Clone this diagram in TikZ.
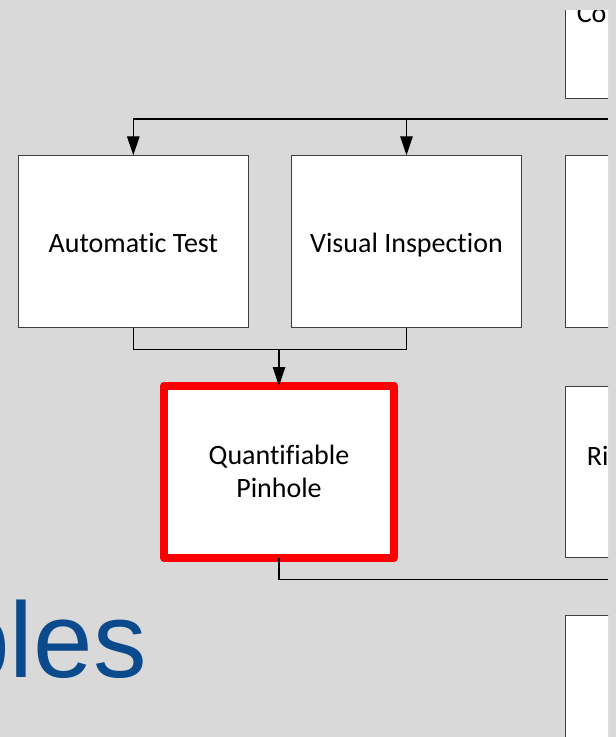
\documentclass[tikz,border=0pt]{standalone}
\usepackage{fontspec}
\setmainfont{Carlito}[RawFeature=-liga]
\newfontfamily\titlefont{Liberation Sans}
\usetikzlibrary{arrows.meta}
\definecolor{canvas}{RGB}{217,217,217}
\definecolor{boxline}{RGB}{64,64,64}
\definecolor{titleblue}{RGB}{11,74,140}
\definecolor{alert}{RGB}{255,0,0}
\begin{document}
\begin{tikzpicture}[x=1pt,y=-1pt,
  stepbox/.style={draw=boxline, line width=1pt, fill=white,
    minimum width=230pt, minimum height=172.5pt, inner sep=0pt, outer sep=0pt,
    align=center, font=\fontsize{28}{33}\selectfont},
  oneline/.style={text height=21pt, text depth=0pt},
  keybox/.style={stepbox, draw=alert, line width=8pt, line join=round,
    minimum height=171.5pt},
  link/.style={draw=black, line width=1.3pt},
  arrow/.style={link, -{Triangle[length=19pt,width=12.5pt]}},
  cuttext/.style={inner sep=0pt, anchor=base west, font=\fontsize{28}{33}\selectfont}
]
\useasboundingbox (0,0) rectangle (616,737);
\fill[canvas] (0,0) rectangle (616,737);
\begin{scope}
  \clip (-10,10) rectangle (608,747);

  % right column, running off the edge
  \node[stepbox] (rtop) at (680,11.75) {};
  \node[cuttext] (rtoptext) at (576.6,22) {Co};
  \node[stepbox] (rmid) at (680,241.5) {};
  \node[stepbox, minimum height=171.5pt] (rlow) at (680,471.75) {};
  \node[cuttext] (rlowtext) at (586.7,465.5) {Ri};
  \node[stepbox] (rbot) at (680,701.75) {};

  % inspection steps
  \node[stepbox, oneline] (auto) at (133.3,241.5) {Automatic Test};
  \node[stepbox, oneline] (visual) at (406.5,241.5) {Visual Inspection};

  % highlighted result
  \node[keybox] (pin) at (279,471.75) {Quantifiable\\Pinhole};

  % heading fragment
  \node[font=\titlefont\fontsize{107}{107}\selectfont, text=titleblue,
    anchor=base west, inner sep=0pt] (heading) at (-49.7,677) {bles};

  % connectors
  \coordinate (feed) at (608,119);
  \draw[arrow] (feed) -| (auto.north);
  \draw[arrow] (visual.north |- feed) -- (visual.north);

  \coordinate (merge) at (279,349.3);
  \draw[link] (auto.south) |- (merge) -| (visual.south);
  \draw[arrow] (merge) -- (pin.north);

  \coordinate (out) at (608,579.5);
  \draw[link] (pin.south) |- (out);
\end{scope}
\end{tikzpicture}
\end{document}
